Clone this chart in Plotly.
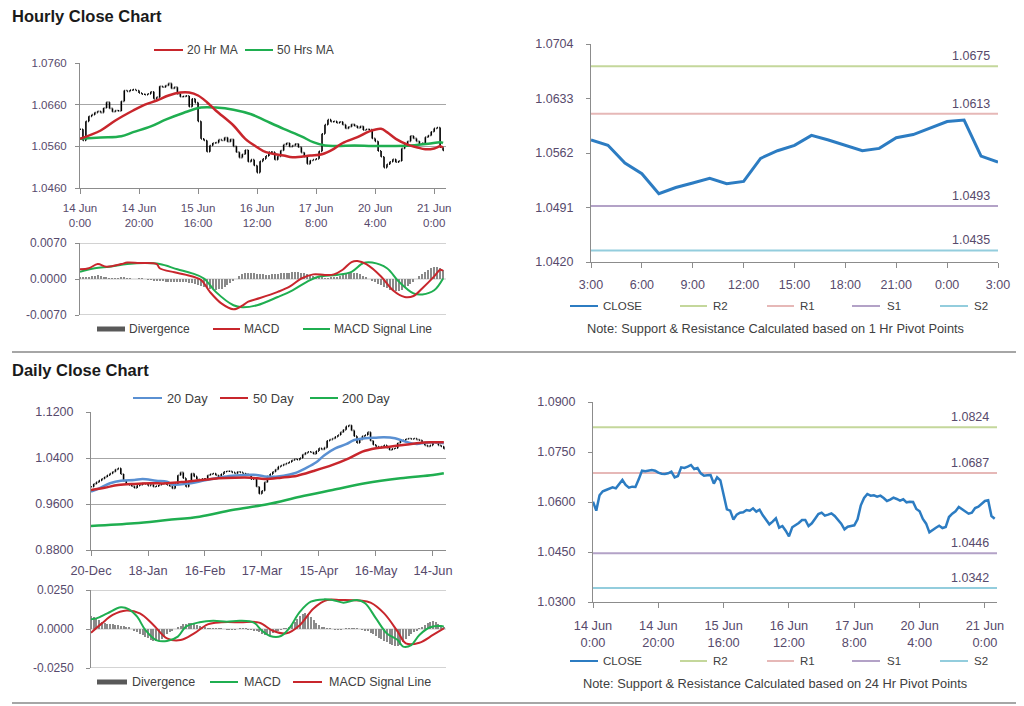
import plotly.graph_objects as go

W, H = 1024, 706
OFF = 8  # page body margin offset compensation

# ---------------- DATA ----------------
hourly_close = [1.0601, 1.0574, 1.0620, 1.0632, 1.0636, 1.0641, 1.0644, 1.0641, 1.0652, 1.0666,
                1.0651, 1.0643, 1.0646, 1.0645, 1.0668, 1.0694, 1.0692, 1.0695, 1.0696, 1.0694,
                1.0688, 1.0685, 1.0684, 1.0686, 1.0691, 1.0674, 1.0678, 1.0704, 1.0702, 1.0706,
                1.0711, 1.0699, 1.0702, 1.0686, 1.0679, 1.0680, 1.0681, 1.0655, 1.0674, 1.0665,
                1.0620, 1.0578, 1.0574, 1.0547, 1.0562, 1.0568, 1.0569, 1.0576, 1.0574, 1.0581,
                1.0571, 1.0577, 1.0560, 1.0546, 1.0533, 1.0541, 1.0551, 1.0523, 1.0528, 1.0514,
                1.0497, 1.0524, 1.0530, 1.0537, 1.0546, 1.0546, 1.0528, 1.0536, 1.0550, 1.0564,
                1.0568, 1.0559, 1.0562, 1.0566, 1.0558, 1.0545, 1.0535, 1.0518, 1.0526, 1.0528,
                1.0530, 1.0548, 1.0590, 1.0612, 1.0624, 1.0619, 1.0620, 1.0616, 1.0619, 1.0612,
                1.0603, 1.0607, 1.0613, 1.0609, 1.0604, 1.0608, 1.0599, 1.0601, 1.0600, 1.0579,
                1.0572, 1.0549, 1.0535, 1.0509, 1.0517, 1.0523, 1.0529, 1.0522, 1.0525, 1.0555,
                1.0565, 1.0572, 1.0585, 1.0579, 1.0572, 1.0565, 1.0568, 1.0582, 1.0586, 1.0595,
                1.0603, 1.0605, 1.0558, 1.0550]
hourly_tick_idx = [0, 20, 40, 60, 80, 100, 120]
hourly_tick_labels = ["14 Jun<br>0:00", "14 Jun<br>20:00", "15 Jun<br>16:00", "16 Jun<br>12:00",
                      "17 Jun<br>8:00", "20 Jun<br>4:00", "21 Jun<br>0:00"]

h_ma20_idx = [0, 7, 12, 18, 22, 26, 30, 34, 37, 40, 43, 46, 52, 56, 60, 63, 69, 72, 78, 82,
              86, 89, 94, 98, 102, 104, 107, 111, 114, 117, 120, 122, 123]
h_ma20 = [1.0578, 1.0598, 1.0622, 1.0646, 1.0660, 1.0670, 1.0682, 1.0689, 1.0689, 1.0682,
          1.0666, 1.0646, 1.0610, 1.0578, 1.0558, 1.0546, 1.0538, 1.0534, 1.0538, 1.0541,
          1.0554, 1.0568, 1.0582, 1.0596, 1.0602, 1.0594, 1.0578, 1.0564, 1.0558, 1.0553,
          1.0555, 1.0560, 1.0557]
h_ma50_idx = [0, 7, 14, 18, 24, 29, 35, 41, 46, 52, 58, 63, 69, 75, 79, 83, 87, 93, 99, 106,
              112, 118, 122, 123]
h_ma50 = [1.0578, 1.0581, 1.0584, 1.0594, 1.0608, 1.0624, 1.0640, 1.0653, 1.0653, 1.0648,
          1.0637, 1.0621, 1.0602, 1.0584, 1.0570, 1.0562, 1.0561, 1.0562, 1.0561, 1.0561,
          1.0562, 1.0566, 1.0570, 1.0568]

h_macd_idx = [0, 3, 6, 9, 14, 16, 20, 26, 27, 32, 36, 41, 44, 48, 52, 55, 57, 61, 67, 71,
              75, 79, 83, 86, 89, 92, 94, 97, 102, 106, 110, 113, 116, 120, 122, 123]
h_macd = [0.0019, 0.0021, 0.0029, 0.0024, 0.0029, 0.0032, 0.0031, 0.0029, 0.0021, 0.0013,
          0.0008, -0.0002, -0.0025, -0.0048, -0.0059, -0.0052, -0.0044, -0.0037, -0.0025, -0.0015,
          0.0001, 0.0009, 0.0008, 0.0009, 0.0018, 0.0033, 0.0035, 0.0029, 0.0005, -0.0022,
          -0.0035, -0.0033, -0.0018, 0.0005, 0.0018, 0.0016]
h_sig_idx = [0, 5, 10, 16, 22, 27, 33, 38, 42, 46, 52, 55, 60, 67, 72, 77, 81, 87, 92, 96,
             99, 104, 108, 113, 116, 120, 123]
h_sig = [0.0014, 0.0021, 0.0024, 0.0029, 0.0031, 0.0029, 0.0019, 0.0011, 0.0001, -0.0025,
         -0.0051, -0.0055, -0.0051, -0.0035, -0.0022, -0.0005, 0.0005, 0.0008, 0.0014, 0.0031,
         0.0032, 0.0021, -0.0005, -0.0028, -0.0030, -0.0022, 0.0001]
h_div = [0.0002, 0.0003, 0.0003, 0.0004,
         0.0005, 0.0006, 0.0007, 0.0005, 0.0003,
         0.0002, 0.0001, 0.0001, 0.0001, 0.0001, 0.0002, 0.0002,
         0.0001, 0.0001, 0.0000, 0.0000, 0.0001, 0.0001, 0.0000, -0.0001, -0.0001,
         -0.0002, -0.0003, -0.0004, -0.0004, -0.0005, -0.0005, -0.0005, -0.0006, -0.0006, -0.0005,
         -0.0005, -0.0006, -0.0007, -0.0008, -0.0009,
         -0.0011, -0.0013, -0.0015, -0.0017, -0.0019, -0.0020, -0.0021, -0.0020, -0.0019, -0.0016,
         -0.0012, -0.0008, -0.0004,
         0.0000, 0.0005, 0.0009, 0.0011, 0.0012, 0.0012, 0.0011, 0.0010, 0.0010, 0.0009,
         0.0008, 0.0008, 0.0009, 0.0010, 0.0010, 0.0011, 0.0011, 0.0012, 0.0012, 0.0013,
         0.0013, 0.0013, 0.0012, 0.0011, 0.0009, 0.0007, 0.0005, 0.0004,
         0.0003, 0.0002, 0.0001, 0.0001, 0.0002, 0.0003, 0.0004, 0.0005,
         0.0007, 0.0009, 0.0011, 0.0012, 0.0012, 0.0011, 0.0009, 0.0006, 0.0003, 0.0000, -0.0003,
         -0.0006, -0.0009, -0.0012, -0.0015, -0.0018, -0.0021, -0.0023, -0.0024, -0.0023, -0.0021,
         -0.0018, -0.0014, -0.0010,
         -0.0005, 0.0000, 0.0005, 0.0010, 0.0014, 0.0018, 0.0021, 0.0023, 0.0024, 0.0022, 0.0018]

last24_labels = ["3:00", "6:00", "9:00", "12:00", "15:00", "18:00", "21:00", "0:00", "3:00"]
pivot_1h = {"R2": 1.0675, "R1": 1.0613, "S1": 1.0493, "S2": 1.0435}
pivot_24h = {"R2": 1.0824, "R1": 1.0687, "S1": 1.0446, "S2": 1.0342}

daily_close = [0.990, 0.995, 0.998, 1.001, 1.004, 1.007, 1.010, 1.013, 1.016, 1.020,
               1.022, 1.012, 1.000, 0.995, 0.993, 0.991, 0.988, 0.992, 0.993, 0.996,
               0.995, 0.992, 0.994, 0.990, 0.991, 0.993, 0.995, 0.996, 0.993, 0.991,
               0.987, 0.995, 1.010, 1.015, 1.005, 0.990, 1.000, 1.013, 1.008, 1.003,
               1.002, 1.004, 1.004, 1.010, 1.012, 1.013, 1.010, 1.007, 1.012, 1.016,
               1.017, 1.017, 1.015, 1.013, 1.016, 1.015, 1.013, 1.012, 1.010, 1.003,
               1.005, 0.990, 0.978, 0.983, 0.998, 1.008, 1.012, 1.016, 1.020, 1.025,
               1.027, 1.029, 1.031, 1.033, 1.036, 1.038, 1.037, 1.040, 1.046, 1.049,
               1.051, 1.050, 1.047, 1.052, 1.057, 1.055, 1.058, 1.070, 1.072, 1.074,
               1.077, 1.080, 1.085, 1.089, 1.095, 1.097, 1.088, 1.078, 1.066, 1.072,
               1.078, 1.080, 1.085, 1.070, 1.063, 1.060, 1.058, 1.060, 1.062, 1.058,
               1.054, 1.056, 1.057, 1.066, 1.070, 1.071, 1.073, 1.074, 1.073, 1.074,
               1.072, 1.071, 1.066, 1.062, 1.060, 1.062, 1.068, 1.066, 1.062, 1.060,
               1.056]
daily_tick_idx = [0, 21, 42, 63, 84, 105, 126]
daily_tick_labels = ["20-Dec", "18-Jan", "16-Feb", "17-Mar", "15-Apr", "16-May", "14-Jun"]

d_ma20_idx = [0, 3, 7, 11, 16, 19, 24, 28, 30, 35, 40, 45, 50, 55, 60, 64, 68, 71, 75, 79,
              83, 86, 90, 94, 97, 101, 105, 108, 112, 116, 120, 123, 127, 130]
d_ma20 = [0.9814, 0.9873, 0.9960, 1.0006, 1.0018, 1.0035, 1.0006, 0.9988, 0.9940, 0.9950,
          0.9990, 1.0040, 1.0080, 1.0100, 1.0110, 1.0080, 1.0075, 1.0090, 1.0134, 1.0220,
          1.0325, 1.0450, 1.0568, 1.0640, 1.0713, 1.0742, 1.0754, 1.0760, 1.0742, 1.0684,
          1.0643, 1.0667, 1.0672, 1.0655]
d_ma50_idx = [0, 5, 10, 16, 22, 28, 35, 41, 47, 53, 59, 64, 70, 76, 82, 89, 95, 100, 105, 110,
              115, 120, 125, 130]
d_ma50 = [0.9844, 0.9884, 0.9930, 0.9950, 0.9960, 0.9960, 0.9988, 1.0017, 1.0046, 1.0058,
          1.0058, 1.0035, 1.0058, 1.0093, 1.0174, 1.0280, 1.0394, 1.0510, 1.0568, 1.0597,
          1.0626, 1.0655, 1.0672, 1.0672]
d_ma200_idx = [0, 16, 28, 40, 52, 65, 77, 89, 101, 114, 126, 130]
d_ma200 = [0.9218, 0.9264, 0.9322, 0.9380, 0.9496, 0.9595, 0.9727, 0.9844, 0.9960, 1.0047,
           1.0104, 1.0134]

d_macd_idx = [0, 2, 6, 11, 14, 17, 20, 24, 28, 32, 35, 40, 45, 50, 55, 60, 63, 66, 70, 73,
              77, 81, 86, 89, 93, 98, 101, 105, 109, 113, 115, 118, 121, 125, 129, 130]
d_macd = [0.0062, 0.0068, 0.0100, 0.0139, 0.0126, 0.0079, -0.0006, -0.0071, -0.0077, -0.0049,
          0.0015, 0.0043, 0.0053, 0.0047, 0.0053, 0.0041, -0.0011, -0.0045, -0.0045, 0.0004,
          0.0111, 0.0175, 0.0190, 0.0186, 0.0169, 0.0186, 0.0165, 0.0068, -0.0028, -0.0071,
          -0.0113, -0.0103, -0.0038, 0.0011, 0.0019, 0.0015]
d_sig_idx = [0, 4, 8, 13, 18, 23, 28, 33, 38, 43, 48, 55, 62, 67, 72, 77, 82, 87, 92, 99,
             103, 108, 113, 116, 121, 126, 130]
d_sig = [-0.0024, 0.0036, 0.0090, 0.0118, 0.0100, 0.0026, -0.0060, -0.0071, -0.0028, 0.0030,
         0.0043, 0.0043, 0.0041, -0.0011, -0.0028, 0.0026, 0.0132, 0.0186, 0.0186, 0.0182,
         0.0169, 0.0100, -0.0017, -0.0092, -0.0088, -0.0038, 0.0004]
d_div = [0.0085, 0.0075, 0.0065, 0.0055, 0.0045, 0.0040,
         0.0035, 0.0032, 0.0030, 0.0028, 0.0025, 0.0022, 0.0020, 0.0015,
         0.0008, 0.0000, -0.0010, -0.0020, -0.0030, -0.0040,
         -0.0050, -0.0060, -0.0070, -0.0078, -0.0080, -0.0075, -0.0065, -0.0050, -0.0035, -0.0020, -0.0010,
         0.0000, 0.0010, 0.0020, 0.0030, 0.0035, 0.0038, 0.0036, 0.0032, 0.0025, 0.0018, 0.0012, 0.0008,
         0.0006, 0.0005, 0.0004, 0.0003, 0.0002, 0.0001, 0.0000, -0.0002, -0.0003, -0.0003,
         -0.0002, 0.0000, 0.0002, 0.0003, 0.0001, -0.0002, -0.0006, -0.0010,
         -0.0015, -0.0022, -0.0030, -0.0036, -0.0040, -0.0036, -0.0028, -0.0018, -0.0008, -0.0002,
         0.0002, 0.0006, 0.0012, 0.0025, 0.0045, 0.0065,
         0.0085, 0.0098, 0.0100, 0.0095, 0.0080, 0.0060, 0.0040, 0.0025,
         0.0015, 0.0008, 0.0004, 0.0001, 0.0000, -0.0002, -0.0003, -0.0002,
         0.0000, 0.0002, 0.0004, 0.0005, 0.0004, 0.0002, 0.0000, -0.0003, -0.0008, -0.0015,
         -0.0025, -0.0035, -0.0045, -0.0055, -0.0065, -0.0075, -0.0085, -0.0095, -0.0105, -0.0112,
         -0.0110, -0.0100, -0.0085, -0.0065, -0.0045,
         -0.0030, -0.0018, -0.0008, 0.0002, 0.0012,
         0.0025, 0.0038, 0.0048, 0.0053, 0.0048, 0.0035, 0.0022, 0.0012]

# ---------------- STYLE ----------------
FONT = "Liberation Sans, Arial, sans-serif"
TICK = "#574A6C"
TXT = "#404040"
AX = "#8C8C8C"
GRID = "#A6A6A6"
RED = "#C8262C"
GREEN = "#1FAE50"
BLUE20 = "#5A90D2"
CLOSE_C = "#2C7CC2"
DIVC = "#8A8A8A"
SR_COL = {"R2": "#C4D79B", "R1": "#E6B8B7", "S1": "#B3A2C7", "S2": "#93CDDD"}


def px(x):
    return (x - OFF) / W


def py(y):
    return 1 - (y - OFF) / H


fig = go.Figure()

# ---- Panel A: hourly OHLC ----
h_x = list(range(len(hourly_close)))
h_open = [hourly_close[0]] + hourly_close[:-1]
h_high = [max(o, c) for o, c in zip(h_open, hourly_close)]
h_low = [min(o, c) for o, c in zip(h_open, hourly_close)]
fig.add_trace(go.Ohlc(x=h_x, open=h_open, high=h_high, low=h_low, close=hourly_close,
                      increasing=dict(line=dict(color="black", width=1.6)),
                      decreasing=dict(line=dict(color="black", width=1.6)),
                      tickwidth=0.3, xaxis="x", yaxis="y", hoverinfo="skip"))
fig.add_trace(go.Scatter(x=h_ma50_idx, y=h_ma50, mode="lines", line=dict(color=GREEN, width=2.5, shape="spline"),
                         xaxis="x", yaxis="y"))
fig.add_trace(go.Scatter(x=h_ma20_idx, y=h_ma20, mode="lines", line=dict(color=RED, width=2.5, shape="spline"),
                         xaxis="x", yaxis="y"))

# ---- Panel B: hourly MACD ----
fig.add_trace(go.Bar(x=h_x, y=h_div, width=0.4, marker=dict(color=DIVC, line=dict(width=0)),
                     xaxis="x2", yaxis="y2"))
fig.add_trace(go.Scatter(x=h_sig_idx, y=h_sig, mode="lines", line=dict(color=GREEN, width=2, shape="spline"),
                         xaxis="x2", yaxis="y2"))
fig.add_trace(go.Scatter(x=h_macd_idx, y=h_macd, mode="lines", line=dict(color=RED, width=2, shape="spline"),
                         xaxis="x2", yaxis="y2"))

# ---- Panel C: last 24 hours with 1 hr pivots ----
last_close = hourly_close[-25:]
c_x = list(range(len(last_close)))
for k, v in pivot_1h.items():
    fig.add_trace(go.Scatter(x=[c_x[0], c_x[-1]], y=[v, v], mode="lines",
                             line=dict(color=SR_COL[k], width=2), xaxis="x3", yaxis="y3"))
fig.add_trace(go.Scatter(x=c_x, y=last_close, mode="lines", line=dict(color=CLOSE_C, width=3),
                         xaxis="x3", yaxis="y3"))

# ---- Panel D: daily OHLC ----
d_x = list(range(len(daily_close)))
d_open = [daily_close[0]] + daily_close[:-1]
d_high = [max(o, c) for o, c in zip(d_open, daily_close)]
d_low = [min(o, c) for o, c in zip(d_open, daily_close)]
fig.add_trace(go.Ohlc(x=d_x, open=d_open, high=d_high, low=d_low, close=daily_close,
                      increasing=dict(line=dict(color="black", width=1.6)),
                      decreasing=dict(line=dict(color="black", width=1.6)),
                      tickwidth=0.3, xaxis="x4", yaxis="y4", hoverinfo="skip"))
fig.add_trace(go.Scatter(x=d_ma200_idx, y=d_ma200, mode="lines", line=dict(color=GREEN, width=2.5, shape="spline"),
                         xaxis="x4", yaxis="y4"))
fig.add_trace(go.Scatter(x=d_ma20_idx, y=d_ma20, mode="lines", line=dict(color=BLUE20, width=2.5, shape="spline"),
                         xaxis="x4", yaxis="y4"))
fig.add_trace(go.Scatter(x=d_ma50_idx, y=d_ma50, mode="lines", line=dict(color=RED, width=2.5, shape="spline"),
                         xaxis="x4", yaxis="y4"))

# ---- Panel E: daily MACD ----
fig.add_trace(go.Bar(x=d_x, y=d_div, width=0.4, marker=dict(color=DIVC, line=dict(width=0)),
                     xaxis="x5", yaxis="y5"))
fig.add_trace(go.Scatter(x=d_sig_idx, y=d_sig, mode="lines", line=dict(color=RED, width=2, shape="spline"),
                         xaxis="x5", yaxis="y5"))
fig.add_trace(go.Scatter(x=d_macd_idx, y=d_macd, mode="lines", line=dict(color=GREEN, width=2, shape="spline"),
                         xaxis="x5", yaxis="y5"))

# ---- Panel F: hourly close with 24 hr pivots ----
for k, v in pivot_24h.items():
    fig.add_trace(go.Scatter(x=[0, 123.7], y=[v, v], mode="lines",
                             line=dict(color=SR_COL[k], width=2), xaxis="x6", yaxis="y6"))
fig.add_trace(go.Scatter(x=h_x, y=hourly_close, mode="lines", line=dict(color=CLOSE_C, width=2.5),
                         xaxis="x6", yaxis="y6"))


def tf(size):
    return dict(family=FONT, size=size, color=TICK)


def xax(x0, x1, y_anchor, rng, tv=None, tt=None, labels=True, standoff=5, size=11.5):
    d = dict(domain=[px(x0), px(x1)], anchor=y_anchor, range=rng, showgrid=False, zeroline=False,
             tickfont=tf(size), fixedrange=True, automargin=False)
    if labels:
        d.update(tickmode="array", tickvals=tv, ticktext=tt, ticks="outside", ticklen=5,
                 tickcolor=AX, showline=True, linecolor=AX, linewidth=1, ticklabelstandoff=standoff)
    else:
        d.update(showticklabels=False, showline=False, ticks="")
    return d


def yax(y0, y1, x_anchor, rng, tv, tt, grid=False, standoff=6, size=11.5):
    return dict(domain=[py(y1), py(y0)], anchor=x_anchor, range=rng, tickmode="array",
                tickvals=tv, ticktext=tt, showgrid=grid, gridcolor=GRID, gridwidth=1,
                zeroline=False, showline=True, linecolor=AX, linewidth=1, ticks="outside",
                ticklen=4, tickcolor=AX, tickfont=tf(size), ticklabelstandoff=standoff,
                fixedrange=True, automargin=False)


def fmt(vals):
    return ["%.4f" % v for v in vals]


ya_t = [1.046, 1.056, 1.066, 1.076]
yb_t = [-0.007, 0.0, 0.007]
yc_t = [1.0420, 1.0491, 1.0562, 1.0633, 1.0704]
yd_t = [0.88, 0.96, 1.04, 1.12]
ye_t = [-0.025, 0.0, 0.025]
yf_t = [1.0300, 1.0450, 1.0600, 1.0750, 1.0900]

fig.update_layout(
    width=W, height=H, margin=dict(l=0, r=0, t=0, b=0, pad=0, autoexpand=False),
    paper_bgcolor="white", plot_bgcolor="white", showlegend=False,
    font=dict(family=FONT, size=11, color=TXT), bargap=0,
    xaxis=dict(xax(80, 446, "y", [0, 124], hourly_tick_idx, hourly_tick_labels, standoff=4, size=11.5),
               rangeslider=dict(visible=False)),
    yaxis=yax(63, 188, "x", [1.046, 1.076], ya_t, fmt(ya_t), grid=True, standoff=6, size=11.5),
    xaxis2=xax(80, 446, "y2", [0, 124], labels=False),
    yaxis2=yax(243, 315, "x2", [-0.007, 0.007], yb_t, fmt(yb_t), standoff=6, size=12),
    xaxis3=xax(591, 998, "y3", [0, 24], list(range(0, 25, 3)), last24_labels, standoff=6, size=12.5),
    yaxis3=yax(44, 262, "x3", [1.0420, 1.0704], yc_t, fmt(yc_t), standoff=10, size=12.5),
    xaxis4=dict(xax(91, 446, "y4", [0, 130.8], daily_tick_idx, daily_tick_labels, standoff=4, size=12.8),
                rangeslider=dict(visible=False)),
    yaxis4=yax(412, 550, "x4", [0.88, 1.12], yd_t, fmt(yd_t), grid=True, standoff=10, size=12.5),
    xaxis5=xax(91, 446, "y5", [0, 130.8], labels=False),
    yaxis5=yax(590, 668, "x5", [-0.025, 0.025], ye_t, fmt(ye_t), standoff=10, size=12),
    xaxis6=xax(593, 997, "y6", [0, 123.7], hourly_tick_idx, hourly_tick_labels, standoff=7, size=12.8),
    yaxis6=yax(402, 602, "x6", [1.0300, 1.0900], yf_t, fmt(yf_t), standoff=10, size=12.5),
)

shapes = []
# MACD panel gridlines at the extreme ticks and a zero axis
for xr, yr, vals in [("x2 domain", "y2", [-0.007, 0.007]), ("x5 domain", "y5", [-0.025, 0.025])]:
    for v in vals:
        shapes.append(dict(type="line", xref=xr, yref=yr, x0=0, x1=1, y0=v, y1=v,
                           line=dict(color=GRID, width=1), layer="below"))
    shapes.append(dict(type="line", xref=xr, yref=yr, x0=0, x1=1, y0=0, y1=0,
                       line=dict(color="#C8C8C8", width=1), layer="below"))

# separators
for yy in [352, 703]:
    shapes.append(dict(type="line", xref="paper", yref="paper", x0=px(12), x1=1, y0=py(yy), y1=py(yy),
                       line=dict(color="#A6A6A6", width=2)))

annotations = []


def text(x, y, s, size=11, color=TXT, anchor="left", bold=False):
    annotations.append(dict(x=px(x), y=py(y), xref="paper", yref="paper", text=("<b>%s</b>" % s) if bold else s,
                            showarrow=False, xanchor=anchor, yanchor="middle",
                            font=dict(family=FONT, size=size, color=color)))


def leg_line(x0, x1, y, color, label, tx, width=2, size=11):
    shapes.append(dict(type="line", xref="paper", yref="paper", x0=px(x0), x1=px(x1), y0=py(y), y1=py(y),
                       line=dict(color=color, width=width)))
    text(tx, y, label, size=size)


def leg_box(x0, x1, y, color, label, tx, size=11):
    shapes.append(dict(type="rect", xref="paper", yref="paper", x0=px(x0), x1=px(x1), y0=py(y + 2.5), y1=py(y - 2.5),
                       fillcolor=color, line=dict(width=0)))
    text(tx, y, label, size=size)


# Titles
text(10, 16, "Hourly Close Chart", size=16.5, color="#1A1A1A", bold=True)
text(10, 370, "Daily Close Chart", size=16.5, color="#1A1A1A", bold=True)

# Legends: panel A
leg_line(154, 183, 50, RED, "20 Hr MA", 185, size=12)
leg_line(245, 273, 50, GREEN, "50 Hrs MA", 275, size=12)
# panel B
leg_box(97, 125, 329, "#595959", "Divergence", 127, size=12)
leg_line(213, 240, 329, RED, "MACD", 242, size=12)
leg_line(303, 330, 329, GREEN, "MACD Signal Line", 332, size=12)
# panel D
leg_line(133, 162, 398, BLUE20, "20 Day", 165, size=12.8)
leg_line(220, 248, 398, RED, "50 Day", 251, size=12.8)
leg_line(310, 338, 398, GREEN, "200 Day", 340, size=12.8)
# panel E
leg_box(97, 127, 682, "#595959", "Divergence", 130, size=12.5)
leg_line(210, 238, 682, GREEN, "MACD", 242, size=12.5)
leg_line(293, 322, 682, RED, "MACD Signal Line", 327, size=12.5)

# right panels legends + notes
for ly, ny, note in [(306, 328, "Note: Support &amp; Resistance Calculated based on 1 Hr Pivot Points"),
                     (661, 683, "Note: Support &amp; Resistance Calculated based on 24 Hr Pivot Points")]:
    leg_line(570, 598, ly, CLOSE_C, "CLOSE", 601, size=11.5)
    leg_line(680, 707, ly, SR_COL["R2"], "R2", 711, size=11.5)
    leg_line(767, 794, ly, SR_COL["R1"], "R1", 798, size=11.5)
    leg_line(852, 880, ly, SR_COL["S1"], "S1", 885, size=11.5)
    leg_line(940, 968, ly, SR_COL["S2"], "S2", 972, size=11.5)
    text(775, ny, note, anchor="center", size=12.8)

# pivot value labels
for xr, yr, piv, xs in [("x3", "y3", pivot_1h, 24), ("x6", "y6", pivot_24h, 123.7)]:
    for k, v in piv.items():
        annotations.append(dict(x=xs, y=v, xref=xr, yref=yr, text="%.4f" % v, showarrow=False,
                                xanchor="right", yanchor="bottom", xshift=-6, yshift=1,
                                font=dict(family=FONT, size=12.5, color=TICK)))

fig.update_layout(shapes=shapes, annotations=annotations)
fig.write_html("out.html")
